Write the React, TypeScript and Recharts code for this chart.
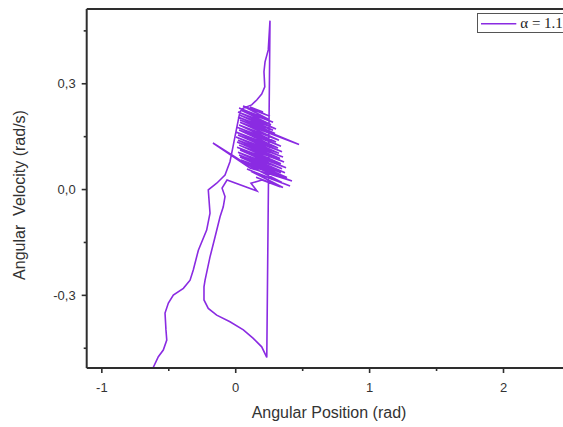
import React from 'react';
import { LineChart, Line, XAxis, YAxis, ReferenceLine, Legend, Label } from 'recharts';

// Angular position (rad) of the trajectory, in time order
const angularPosition = [
  -0.618, -0.578, -0.541, -0.515, -0.521, -0.528, -0.503, -0.466, -0.391, -0.341,
  -0.317, -0.279, -0.217, -0.192, -0.205, -0.142, -0.080, -0.043, -0.018, 0.007,
  0.032, 0.057, 0.119, 0.157, 0.194, 0.217, 0.211, 0.219, 0.243, 0.256,
  0.232, 0.194, 0.131, 0.057, -0.043, -0.142, -0.205, -0.237, -0.237, -0.229,
  -0.192, -0.154, -0.117, -0.093, -0.080, -0.102, -0.065, 0.159, 0.114,
  0.196, 0.331, 0.152, 0.353, 0.114, 0.406, 0.084, 0.346, 0.062, 0.420,
  0.107, -0.170, 0.069, 0.361,
  0.040, 0.383, 0.032, 0.338, 0.025, 0.368, 0.017, 0.346, 0.032, 0.376,
  0.010, 0.338, 0.025, 0.361, 0.010, 0.331, 0.017, 0.353, 0.002, 0.323,
  0.017, 0.346, 0.002, 0.316, 0.025, 0.338, 0.010, 0.301, 0.025, 0.323,
  0.032, 0.473, 0.032, 0.294, 0.017, 0.279, 0.032, 0.301, 0.017, 0.264,
  0.040, 0.279, 0.025, 0.241, 0.055, 0.256, 0.077, 0.226, 0.107, 0.204,
];

// Angular velocity (rad/s) of the trajectory, in time order
const angularVelocity = [
  -0.506, -0.474, -0.455, -0.427, -0.398, -0.350, -0.322, -0.299, -0.280, -0.257,
  -0.228, -0.172, -0.115, -0.067, -0.001, 0.018, 0.041, 0.079, 0.126, 0.174,
  0.221, 0.231, 0.240, 0.254, 0.271, 0.291, 0.334, 0.362, 0.396, 0.479,
  -0.476, -0.446, -0.422, -0.398, -0.375, -0.356, -0.337, -0.313, -0.276, -0.257,
  -0.191, -0.134, -0.077, -0.049, -0.020, 0.004, 0.027, -0.004, 0.018,
  0.027, 0.008, 0.035, 0.006, 0.052, 0.010, 0.058, 0.020, 0.075, 0.024,
  0.061, 0.132, 0.075, 0.033,
  0.084, 0.034, 0.092, 0.048, 0.098, 0.048, 0.106, 0.059, 0.112, 0.062,
  0.120, 0.073, 0.126, 0.078, 0.135, 0.088, 0.140, 0.092, 0.149, 0.103,
  0.155, 0.107, 0.163, 0.118, 0.169, 0.123, 0.177, 0.135, 0.183, 0.140,
  0.191, 0.128, 0.197, 0.159, 0.206, 0.168, 0.211, 0.172, 0.220, 0.184,
  0.225, 0.191, 0.231, 0.200, 0.237, 0.208, 0.234, 0.212, 0.234, 0.220,
];

const xTicks = [-1, -0.5, 0, 0.5, 1, 1.5, 2, 2.5];
const xMajorTicks = [-1, 0, 1, 2];
const yTicks = [-0.45, -0.3, -0.15, 0, 0.15, 0.3, 0.45];
const yMajorTicks = [-0.3, 0, 0.3];
const seriesName = 'α = 1.1';
const xTitle = 'Angular Position (rad)';
const yTitle = 'Angular  Velocity (rad/s)';

const data = angularPosition.map((x, i) => ({ x, y: angularVelocity[i] }));

const AXIS = '#2e2e2e';
const PURPLE = '#8a2be2';
const SANS = '"Liberation Sans", Arial, sans-serif';
const SERIF = '"Liberation Serif", "Times New Roman", serif';

const isMajor = (list: number[], v: number) => list.some((m) => Math.abs(m - v) < 1e-9);

const XTick = (props: any) => {
  const { x, y, payload } = props;
  const v = payload.value as number;
  const major = isMajor(xMajorTicks, v);
  return (
    <g>
      <line x1={x} y1={y} x2={x} y2={y + (major ? 5 : 3)} stroke={AXIS} strokeWidth={1.6} />
      {major && (
        <text x={x} y={y + 24} textAnchor="middle" fontSize={13} fill="#333" fontFamily={SANS}>
          {String(v)}
        </text>
      )}
    </g>
  );
};

const YTick = (props: any) => {
  const { x, y, payload } = props;
  const v = payload.value as number;
  const major = isMajor(yMajorTicks, v);
  return (
    <g>
      <line x1={x - (major ? 5 : 3)} y1={y} x2={x} y2={y} stroke={AXIS} strokeWidth={1.6} />
      {major && (
        <text x={x - 11} y={y + 4.5} textAnchor="end" fontSize={13} fill="#333" fontFamily={SANS}>
          {v.toFixed(1).replace('.', ',')}
        </text>
      )}
    </g>
  );
};

const renderLegend = () => (
  <div
    style={{
      position: 'relative',
      width: 110,
      height: 20,
      border: '1px solid #555',
      background: '#fff',
      boxSizing: 'border-box',
    }}
  >
    <svg width={108} height={18} style={{ position: 'absolute', left: 0, top: 0 }}>
      <line x1={3} y1={9.7} x2={38.3} y2={9.7} stroke={PURPLE} strokeWidth={1.5} />
      <text x={42.3} y={14.3} fontSize={15} fill="#222" fontFamily={SERIF}>
        {seriesName}
      </text>
    </svg>
  </div>
);

export default function App() {
  return (
    <div
      style={{
        position: 'fixed',
        left: 0,
        top: 0,
        width: 563,
        height: 427,
        overflow: 'hidden',
        background: '#fff',
      }}
    >
      <LineChart
        width={580}
        height={427}
        data={data}
        margin={{ top: 9, right: 9.55, bottom: 19, left: 0 }}
      >
        <XAxis
          type="number"
          dataKey="x"
          domain={[-1.113, 2.5]}
          allowDataOverflow
          ticks={xTicks}
          interval={0}
          tick={<XTick />}
          tickLine={false}
          tickSize={0}
          tickMargin={0}
          height={40}
          axisLine={{ stroke: AXIS, strokeWidth: 2 }}
        >
          <Label
            content={() => (
              <text x={329} y={418} textAnchor="middle" fontSize={16} fill="#333" fontFamily={SANS}>
                {xTitle}
              </text>
            )}
          />
        </XAxis>
        <YAxis
          type="number"
          domain={[-0.506, 0.512]}
          allowDataOverflow
          ticks={yTicks}
          interval={0}
          tick={<YTick />}
          tickLine={false}
          tickSize={0}
          tickMargin={0}
          width={86.7}
          axisLine={{ stroke: AXIS, strokeWidth: 2 }}
        >
          <Label
            content={() => (
              <text
                x={25}
                y={195}
                transform="rotate(-90 25 195)"
                textAnchor="middle"
                fontSize={16}
                fill="#333"
                fontFamily={SANS}
                style={{ whiteSpace: 'pre' }}
              >
                {yTitle}
              </text>
            )}
          />
        </YAxis>
        <ReferenceLine y={0.512} stroke={AXIS} strokeWidth={2} />
        <ReferenceLine x={2.5} stroke={AXIS} strokeWidth={2} />
        <Legend
          verticalAlign="middle"
          align="center"
          layout="horizontal"
          content={renderLegend}
          wrapperStyle={{ left: 476.7, top: 13.3, width: 110, height: 20 }}
        />
        <Line
          type="linear"
          dataKey="y"
          name={seriesName}
          stroke={PURPLE}
          strokeWidth={1.6}
          dot={false}
          isAnimationActive={false}
        />
      </LineChart>
    </div>
  );
}
